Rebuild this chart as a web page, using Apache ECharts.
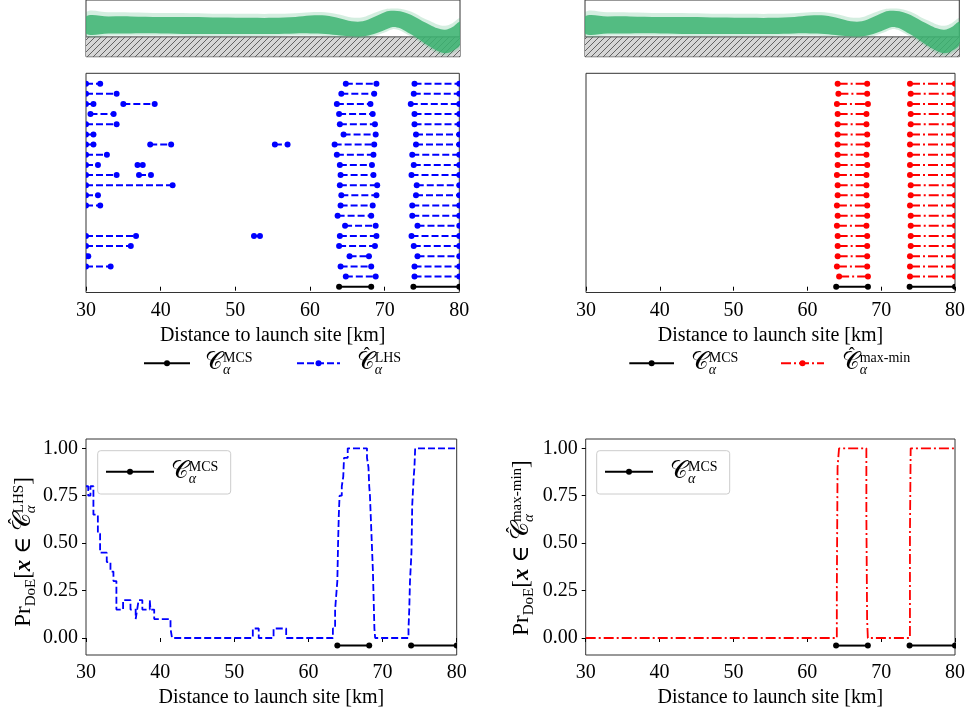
<!DOCTYPE html>
<html>
<head>
<meta charset="utf-8">
<script src="https://cdn.jsdelivr.net/npm/echarts@6/dist/echarts.min.js"></script>
<style>
  html, body { margin: 0; padding: 0; background: #fff; }
  #chart { width: 968px; height: 717px; }
</style>
</head>
<body>
<div id="chart"></div>
<script>
// ---------------- data ----------------
const xTicks = [30, 40, 50, 60, 70, 80];
const probTicks = [0, 0.25, 0.5, 0.75, 1];

// Trajectory ensemble envelope (altitude above ground, arbitrary units)
const trajX          = [30, 33, 36, 40, 44, 48, 52, 55, 58, 60, 62, 64, 65.5, 67, 68.5, 70, 71, 72, 73, 74, 75, 76, 77, 78, 79, 80];
const trajOuterTop   = [29.0, 28.8, 28.6, 28.0, 27.8, 27.2, 27.0, 27.0, 27.8, 29.0, 28.8, 26.0, 22.8, 23.0, 28.0, 32.5, 33.3, 33.0, 31.0, 27.5, 22.5, 18.5, 14.5, 13.0, 16.0, 21.5];
const trajCoreTop    = [24.0, 24.0, 24.0, 23.3, 23.3, 22.6, 22.3, 22.3, 23.3, 25.0, 25.0, 21.6, 18.3, 18.3, 23.3, 29.3, 30.6, 30.0, 27.3, 23.3, 18.3, 14.0, 10.0, 8.3, 11.6, 17.3];
const trajCoreBottom = [4.0, 4.0, 4.0, 4.0, 3.3, 3.3, 3.3, 3.3, 4.0, 4.0, 3.3, 1.6, 0.6, 0.6, 3.3, 8.3, 11.6, 10.0, 5.0, 0.0, -6.0, -11.7, -16.7, -19.4, -16.7, -9.4];
const trajOuterBottom= [1.5, 1.5, 1.5, 1.5, 1.0, 1.0, 1.0, 1.0, 1.5, 1.5, 1.0, -0.5, -1.5, -1.5, 1.0, 5.5, 9.0, 7.5, 2.5, -2.5, -8.5, -14.5, -19.5, -22.0, -19.5, -12.5];
const groundLevel = 0;

// Confidence-set intervals [km] for each design of experiments (top row first)
const lhsIntervals = [
  [[30, 31.9], [64.8, 68.9], [74.0, 80]],
  [[30, 34.1], [64.2, 68.6], [73.9, 80]],
  [[30, 31.0], [35.0, 39.2], [63.6, 68.1], [73.5, 80]],
  [[30.6, 33.7], [63.9, 68.4], [74.0, 80]],
  [[30, 34.1], [64.0, 68.7], [74.0, 80]],
  [[30, 31.0], [64.5, 68.8], [74.2, 80]],
  [[30, 31.0], [38.6, 41.4], [55.3, 57.0], [63.3, 68.6], [74.2, 80]],
  [[30, 32.8], [63.6, 68.5], [73.7, 80]],
  [[30, 31.6], [36.9, 37.6], [64.0, 68.3], [73.9, 80]],
  [[30, 34.1], [37.1, 38.7], [64.1, 68.5], [73.6, 80]],
  [[30, 41.6], [64.0, 69.0], [74.3, 80]],
  [[30, 31.6], [64.2, 68.9], [74.2, 80]],
  [[30, 31.9], [64.1, 68.4], [73.7, 80]],
  [[63.7, 68.2], [73.7, 80]],
  [[64.7, 68.8], [74.4, 80]],
  [[30, 36.7], [52.5, 53.3], [64.0, 68.9], [73.6, 80]],
  [[30, 36.0], [63.9, 68.7], [73.9, 80]],
  [[30, 30.3], [65.3, 67.9], [74.4, 80]],
  [[30, 33.3], [64.1, 68.2], [74.0, 80]],
  [[64.8, 68.8], [74.0, 80]]
];
const maxminIntervals = [
  [[64.1, 68.1], [73.9, 80]],
  [[64.2, 68.1], [74.0, 80]],
  [[64.0, 68.2], [73.9, 80]],
  [[64.1, 68.0], [74.0, 80]],
  [[64.1, 68.0], [74.0, 80]],
  [[64.1, 68.1], [73.9, 80]],
  [[64.1, 68.1], [73.9, 80]],
  [[64.1, 68.0], [73.9, 80]],
  [[64.1, 68.1], [73.9, 80]],
  [[64.0, 68.0], [73.9, 80]],
  [[64.1, 68.0], [74.0, 80]],
  [[64.1, 68.0], [74.0, 80]],
  [[64.0, 68.1], [73.9, 80]],
  [[64.1, 68.1], [74.0, 80]],
  [[64.0, 68.0], [74.0, 80]],
  [[64.1, 68.1], [74.0, 80]],
  [[64.1, 68.1], [74.0, 80]],
  [[64.1, 68.1], [73.9, 80]],
  [[64.0, 68.1], [73.9, 80]],
  [[64.3, 68.2], [73.9, 80]]
];
const mcsIntervals = [[63.9, 68.2], [73.85, 80]];

// Probability of a point lying in the estimated set: [distance km, probability], value held until next point
const lhsProb = [
  [30, 0.80], [30.3, 0.75], [30.6, 0.80], [31.0, 0.65], [31.6, 0.55], [31.9, 0.45], [32.8, 0.40],
  [33.3, 0.35], [33.7, 0.30], [34.1, 0.15], [35.0, 0.20], [36.0, 0.15], [36.7, 0.10], [36.9, 0.15],
  [37.1, 0.20], [37.6, 0.15], [38.6, 0.20], [38.7, 0.15], [39.2, 0.10], [41.4, 0.05], [41.6, 0.00],
  [52.5, 0.05], [53.3, 0.00], [55.3, 0.05], [57.0, 0.00],
  [63.3, 0.05], [63.6, 0.15], [63.7, 0.20], [63.9, 0.30], [64.0, 0.50], [64.1, 0.65], [64.2, 0.75],
  [64.5, 0.80], [64.7, 0.85], [64.8, 0.95], [65.3, 1.00],
  [67.9, 0.95], [68.1, 0.90], [68.2, 0.80], [68.3, 0.75], [68.4, 0.65], [68.5, 0.55], [68.6, 0.45],
  [68.7, 0.35], [68.8, 0.20], [68.9, 0.05], [69.0, 0.00],
  [73.5, 0.05], [73.6, 0.15], [73.7, 0.30], [73.9, 0.45], [74.0, 0.70], [74.2, 0.85], [74.3, 0.90],
  [74.4, 1.00], [80, 1.00]
];
const maxminProb = [
  [30, 0.00], [64.0, 0.25], [64.1, 0.90], [64.2, 0.95], [64.3, 1.00], [68.0, 0.65], [68.1, 0.10],
  [68.2, 0.00], [73.9, 0.55], [74.0, 1.00], [80, 1.00]
];

// ---------------- styling helpers ----------------
const SERIF = "'Liberation Serif', 'DejaVu Serif', serif";
const FRAME = '#333';
const GREEN = '#3cb371';
const BLUE = '#0000ff';
const RED = '#ff0000';
const DASHED = [7, 3];
const DASHDOT = [10, 3, 2, 3];
const TOP_ROW = lhsIntervals.length;     // row index of the first design
const MCS_LEVEL = -0.04;                  // height of the reference set in the probability panels

const measureCtx = document.createElement('canvas').getContext('2d');
function fontOf(p) {
  return (p.italic ? 'italic ' : '') + (p.bold ? 'bold ' : '') + p.size + 'px ' + SERIF;
}
function textWidth(t, font) { measureCtx.font = font; return measureCtx.measureText(t).width; }

// lays out a math expression on a common baseline starting at local (0, 0)
function mathPieces(pieces, color, z) {
  let x = 0;
  const children = [];
  for (const p of pieces) {
    const parts = p.stack || [p];
    let w = 0;
    for (const q of parts) {
      const f = fontOf(q);
      children.push({
        type: 'text', x: x + (q.dx || 0), y: (q.dy || 0) - 0.32 * q.size, z: z,
        style: { text: q.t, font: f, fill: color || '#000', align: 'left', verticalAlign: 'middle' }
      });
      if (!q.overlay) w = Math.max(w, textWidth(q.t, f) + (q.dx || 0));
    }
    x += w + (p.gap || 0);
  }
  return { children, width: x };
}

const hat = { t: 'ˆ', size: 18, dx: 7, dy: -8.5, overlay: true };
function scriptC(size) { return { stack: [{ t: '\u{1D49E}', size: size }] }; }
function hatC(size) { return { stack: [{ t: '\u{1D49E}', size: size }, hat] }; }
function scripts(sup, size) {
  return { stack: [{ t: sup, size: size, dy: -7 }, { t: 'α', size: size, italic: true, dy: 5 }] };
}
const mcsLabel = [scriptC(24), scripts('MCS', 14)];
const lhsLabel = [hatC(24), scripts('LHS', 14)];
const maxminLabel = [hatC(24), scripts('max-min', 14)];

function labelAt(x, y, pieces) {
  const m = mathPieces(pieces, '#000', 110);
  return { type: 'group', x: x, y: y, children: m.children, z: 110 };
}
function yTitle(xBase, yCenter, setSup) {
  const pieces = [
    { t: 'Pr', size: 23 }, { t: 'DoE', size: 15, dy: 5 }, { t: '[', size: 23 },
    { t: 'x', size: 23, bold: true, italic: true }, { t: ' ∈ ', size: 23 },
    hatC(25), scripts(setSup, 15), { t: ']', size: 23 }
  ];
  const m = mathPieces(pieces, '#000', 110);
  return { type: 'group', x: xBase, y: yCenter + m.width / 2, rotation: Math.PI / 2, children: m.children, z: 110 };
}
function legendSample(x1, x2, y, color, dash) {
  return [
    { type: 'line', shape: { x1: x1, y1: y, x2: x2, y2: y }, style: { stroke: color, lineWidth: 2, lineDash: dash || null }, z: 105 },
    { type: 'circle', shape: { cx: (x1 + x2) / 2, cy: y, r: 3 }, style: { fill: color }, z: 106 }
  ];
}

function hatchImage() {
  const c = document.createElement('canvas');
  c.width = 6; c.height = 6;
  const g = c.getContext('2d');
  g.fillStyle = '#d6d6d6';
  g.fillRect(0, 0, 6, 6);
  g.strokeStyle = '#555';
  g.lineWidth = 0.9;
  g.beginPath();
  g.moveTo(-1, 7); g.lineTo(7, -1);
  g.moveTo(-1, 1); g.lineTo(1, -1);
  g.moveTo(5, 7); g.lineTo(7, 5);
  g.stroke();
  return c;
}
const hatch = hatchImage();

// ---------------- axes ----------------
const axisFont = { fontFamily: SERIF, fontSize: 20, color: '#000' };
const gridBase = { show: true, borderColor: FRAME, borderWidth: 1, backgroundColor: 'transparent' };
const grids = [
  Object.assign({ left: 86, top: -10, width: 374, height: 66.7 }, gridBase),
  Object.assign({ left: 585, top: -10, width: 374.3, height: 66.7 }, gridBase),
  Object.assign({ left: 86, top: 73.3, width: 373.3, height: 219.2 }, gridBase),
  Object.assign({ left: 586, top: 73.3, width: 372.3, height: 219.2 }, gridBase),
  Object.assign({ left: 86, top: 439, width: 370.7, height: 216 }, gridBase),
  Object.assign({ left: 585.7, top: 439, width: 370.3, height: 216 }, gridBase)
];
function distanceAxis(i, visible) {
  return {
    gridIndex: i, type: 'value', min: xTicks[0], max: xTicks[xTicks.length - 1], interval: 10,
    show: visible,
    name: visible ? 'Distance to launch site [km]' : '', nameLocation: 'middle', nameGap: 33,
    nameTextStyle: axisFont,
    axisLine: { show: false },
    axisTick: { show: true, length: 4, lineStyle: { color: '#000', width: 1 } },
    axisLabel: Object.assign({ margin: 8 }, axisFont),
    splitLine: { show: false }
  };
}
const xAxes = [0, 1, 2, 3, 4, 5].map(i => distanceAxis(i, i >= 2));
const yAxes = [
  { gridIndex: 0, type: 'value', min: -23.4, max: 43.3, show: false, splitLine: { show: false } },
  { gridIndex: 1, type: 'value', min: -23.4, max: 43.3, show: false, splitLine: { show: false } },
  { gridIndex: 2, type: 'value', min: -0.57, max: TOP_ROW + 1.02, show: false, splitLine: { show: false } },
  { gridIndex: 3, type: 'value', min: -0.57, max: TOP_ROW + 1.02, show: false, splitLine: { show: false } }
];
[4, 5].forEach(i => yAxes.push({
  gridIndex: i, type: 'value', min: -0.0896, max: 1.049,
  axisLine: { show: false }, splitLine: { show: false },
  axisTick: { show: true, length: 4, lineStyle: { color: '#000', width: 1 }, customValues: probTicks },
  axisLabel: Object.assign({ margin: 8, customValues: probTicks, formatter: v => v.toFixed(2) }, axisFont)
}));

// ---------------- series ----------------
const series = [];

function groundSeries(i) {
  return {
    type: 'custom', xAxisIndex: i, yAxisIndex: i, data: [0], silent: true, clip: true, z: 1,
    renderItem: (params, api) => {
      const a = api.coord([trajX[0], -23.4]);
      const b = api.coord([trajX[trajX.length - 1], groundLevel]);
      return {
        type: 'group', children: [
          { type: 'rect', shape: { x: a[0], y: b[1], width: b[0] - a[0], height: a[1] - b[1] },
            style: { fill: { image: hatch, repeat: 'repeat' } } },
          { type: 'line', shape: { x1: a[0], y1: b[1], x2: b[0], y2: b[1] },
            style: { stroke: '#666', lineWidth: 1.2 } }
        ]
      };
    }
  };
}
function bandSeries(i, upper, lower, opacity) {
  return {
    type: 'custom', xAxisIndex: i, yAxisIndex: i, data: [0], silent: true, clip: true, z: 2,
    renderItem: (params, api) => {
      const pts = [];
      for (let k = 0; k < trajX.length; k++) pts.push(api.coord([trajX[k], upper[k]]));
      for (let k = trajX.length - 1; k >= 0; k--) pts.push(api.coord([trajX[k], lower[k]]));
      return { type: 'polygon', shape: { points: pts, smooth: 0.35 }, style: { fill: GREEN, opacity: opacity } };
    }
  };
}
[0, 1].forEach(i => {
  series.push(groundSeries(i));
  series.push(bandSeries(i, trajOuterTop, trajOuterBottom, 0.22));
  series.push(bandSeries(i, trajCoreTop, trajCoreBottom, 0.85));
});

// one custom series per panel and style: each item is [start, end, level]; clipped to the frame
function intervalSeries(axis, items, color, dash) {
  return {
    type: 'custom', xAxisIndex: axis, yAxisIndex: axis, silent: true, clip: true, z: 3,
    data: items, encode: { x: [0, 1], y: 2 },
    renderItem: (params, api) => {
      const lvl = api.value(2);
      const p1 = api.coord([api.value(0), lvl]);
      const p2 = api.coord([api.value(1), lvl]);
      return {
        type: 'group', children: [
          { type: 'line', shape: { x1: p1[0], y1: p1[1], x2: p2[0], y2: p2[1] },
            style: { stroke: color, lineWidth: 2, lineDash: dash || null, lineCap: 'butt' } },
          { type: 'circle', shape: { cx: p1[0], cy: p1[1], r: 3 }, style: { fill: color } },
          { type: 'circle', shape: { cx: p2[0], cy: p2[1], r: 3 }, style: { fill: color } }
        ]
      };
    }
  };
}
function rowItems(rows) {
  const out = [];
  rows.forEach((row, r) => row.forEach(iv => out.push([iv[0], iv[1], TOP_ROW - r])));
  return out;
}
function levelItems(ivs, level) { return ivs.map(iv => [iv[0], iv[1], level]); }

series.push(intervalSeries(2, rowItems(lhsIntervals), BLUE, DASHED));
series.push(intervalSeries(2, levelItems(mcsIntervals, 0), '#000'));
series.push(intervalSeries(3, rowItems(maxminIntervals), RED, DASHDOT));
series.push(intervalSeries(3, levelItems(mcsIntervals, 0), '#000'));

series.push({
  type: 'line', xAxisIndex: 4, yAxisIndex: 4, data: lhsProb, step: 'end', showSymbol: false, silent: true,
  lineStyle: { color: BLUE, width: 1.8, type: DASHED }
});
series.push({
  type: 'line', xAxisIndex: 5, yAxisIndex: 5, data: maxminProb, step: 'end', showSymbol: false, silent: true,
  lineStyle: { color: RED, width: 1.8, type: DASHDOT }
});
[4, 5].forEach(i => series.push(intervalSeries(i, levelItems(mcsIntervals, MCS_LEVEL), '#000')));

// ---------------- legends and titles ----------------
const graphics = [];
graphics.push(...legendSample(144, 190, 363.3, '#000'));
graphics.push(labelAt(205, 370, mcsLabel));
graphics.push(...legendSample(297, 340, 363.3, BLUE, DASHED));
graphics.push(labelAt(356.7, 370, lhsLabel));

graphics.push(...legendSample(629.3, 674, 363.3, '#000'));
graphics.push(labelAt(690.7, 370, mcsLabel));
graphics.push(...legendSample(781, 824, 363.3, RED, DASHDOT));
graphics.push(labelAt(841.7, 370, maxminLabel));

[[97.7, 106, 170.7], [596.7, 605, 670]].forEach(([bx, lx, tx]) => {
  graphics.push({ type: 'rect', shape: { x: bx, y: 450.7, width: 133, height: 43.3, r: 3 },
    style: { fill: 'rgba(255,255,255,0.8)', stroke: '#cccccc', lineWidth: 1 }, z: 100 });
  graphics.push(...legendSample(lx, lx + 48, 471.7, '#000'));
  graphics.push(labelAt(tx, 479, mcsLabel));
});

graphics.push(yTitle(31, 552, 'LHS'));
graphics.push(yTitle(529, 548, 'max-min'));

const chart = echarts.init(document.getElementById('chart'), null, { renderer: 'canvas', width: 968, height: 717 });
chart.setOption({
  backgroundColor: '#fff',
  animation: false,
  grid: grids,
  xAxis: xAxes,
  yAxis: yAxes,
  series: series,
  graphic: { elements: graphics }
});
</script>
</body>
</html>
